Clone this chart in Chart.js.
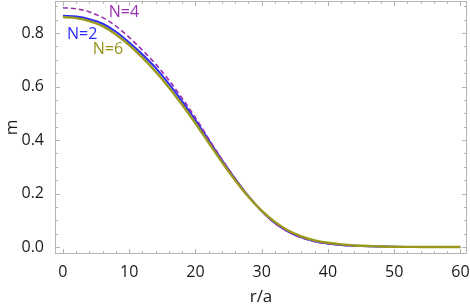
<!DOCTYPE html>
<html>
<head>
<meta charset="utf-8">
<script src="https://cdn.jsdelivr.net/npm/chart.js@4.4.1/dist/chart.umd.min.js"></script>
<style>
  html, body { margin: 0; padding: 0; background: #fff; }
  #wrap { width: 470px; height: 308px; }
</style>
</head>
<body>
<div id="wrap"><canvas id="grafico"></canvas></div>
<script>
const radios = [0, 2, 4, 6, 8, 10, 12, 14, 16, 18, 20, 22, 24, 26, 28, 30,
  32, 34, 36, 38, 40, 42, 44, 46, 48, 50, 52, 54, 56, 58, 60];
const mN2 = [0.865, 0.862, 0.852, 0.835, 0.805, 0.765, 0.72, 0.67, 0.61, 0.545, 0.475,
  0.40, 0.325, 0.255, 0.19, 0.135, 0.09, 0.058, 0.036, 0.022, 0.013, 0.008, 0.005,
  0.003, 0.002, 0.001, 0.0005, 0.0003, 0.0002, 0.0001, 0.0001];
const mN4 = [0.895, 0.891, 0.879, 0.858, 0.826, 0.784, 0.736, 0.684, 0.624, 0.556, 0.484,
  0.405, 0.328, 0.256, 0.19, 0.134, 0.089, 0.057, 0.035, 0.021, 0.012, 0.007, 0.004,
  0.003, 0.002, 0.001, 0.0005, 0.0003, 0.0002, 0.0001, 0.0001];
const mN6 = [0.860, 0.856, 0.845, 0.826, 0.795, 0.755, 0.708, 0.656, 0.597, 0.532, 0.463,
  0.390, 0.318, 0.250, 0.188, 0.136, 0.094, 0.062, 0.040, 0.025, 0.016, 0.010, 0.006,
  0.004, 0.002, 0.001, 0.0006, 0.0004, 0.0002, 0.0001, 0.0001];
const xTicks = [0, 10, 20, 30, 40, 50, 60];
const yTicks = [0.0, 0.2, 0.4, 0.6, 0.8];

const pares = (ys) => radios.map((r, i) => ({ x: r, y: ys[i] }));
const fonte = "'Open Sans', 'DejaVu Sans', sans-serif";

// moldura estilo Mathematica com marcas para dentro
const moldura = {
  id: 'moldura',
  afterDraw(chart) {
    const { ctx, chartArea: a, scales: { x, y } } = chart;
    ctx.save();
    ctx.strokeStyle = '#b4b4b4';
    ctx.lineWidth = 1;
    ctx.strokeRect(a.left + 0.5, a.top + 0.5, a.right - a.left - 1, a.bottom - a.top - 1);
    ctx.beginPath();
    for (let v = 0; v <= 60; v += 2) {
      const px = Math.round(x.getPixelForValue(v)) + 0.5;
      const len = v % 10 === 0 ? 5 : 3;
      ctx.moveTo(px, a.bottom); ctx.lineTo(px, a.bottom - len);
      ctx.moveTo(px, a.top); ctx.lineTo(px, a.top + len);
    }
    for (let v = 0; v <= 0.9001; v += 0.05) {
      const py = Math.round(y.getPixelForValue(v)) + 0.5;
      const major = Math.abs(v * 5 - Math.round(v * 5)) < 1e-6;
      const len = major ? 5 : 3;
      ctx.moveTo(a.left, py); ctx.lineTo(a.left + len, py);
      ctx.moveTo(a.right, py); ctx.lineTo(a.right - len, py);
    }
    ctx.stroke();

    // rótulos das curvas
    ctx.font = '16px ' + fonte;
    ctx.textAlign = 'center';
    ctx.textBaseline = 'middle';
    const rot = [['N=4', '#9a2fb0', 9.2, 0.878], ['N=2', '#2a2aff', 2.9, 0.796], ['N=6', '#93931a', 6.8, 0.740]];
    rot.forEach(([t, c, rx, my]) => {
      ctx.fillStyle = c;
      ctx.fillText(t, x.getPixelForValue(rx), y.getPixelForValue(my));
    });
    ctx.restore();
  }
};

const ctx = document.getElementById('grafico').getContext('2d');
new Chart(ctx, {
  type: 'line',
  data: {
    datasets: [
      { label: 'N=6', data: pares(mN6), borderColor: '#999a1c', borderWidth: 2.4, order: 0 },
      { label: 'N=4', data: pares(mN4), borderColor: '#9a2fb0', borderWidth: 1.6, borderDash: [5, 3], order: 1 },
      { label: 'N=2', data: pares(mN2), borderColor: '#2a2aff', borderWidth: 2, order: 2 }
    ]
  },
  options: {
    responsive: true,
    maintainAspectRatio: false,
    animation: false,
    elements: { point: { radius: 0 }, line: { tension: 0.4, cubicInterpolationMode: 'monotone', fill: false } },
    layout: { padding: { left: 0, right: 3, top: 1, bottom: 0 } },
    plugins: { legend: { display: false }, tooltip: { enabled: false } },
    scales: {
      x: {
        type: 'linear', min: -1.2, max: 61,
        grid: { display: false }, border: { display: false },
        afterBuildTicks: (s) => { s.ticks = xTicks.map(v => ({ value: v })); },
        afterFit: (s) => { s.height = 54; s.paddingLeft = 0; s.paddingRight = 0; },
        ticks: { color: '#1a1a1a', font: { family: fonte, size: 16 }, padding: 1, maxRotation: 0 },
        title: { display: true, text: 'r/a', color: '#1a1a1a', font: { family: fonte, size: 17 }, padding: { top: 0, bottom: 1 } }
      },
      y: {
        type: 'linear', min: -0.026, max: 0.92,
        grid: { display: false }, border: { display: false },
        afterBuildTicks: (s) => { s.ticks = yTicks.map(v => ({ value: v })); },
        afterFit: (s) => { s.width = 55; s.paddingTop = 0; s.paddingBottom = 0; },
        ticks: { color: '#1a1a1a', font: { family: fonte, size: 16 }, padding: 3, callback: (v) => v.toFixed(1) },
        title: { display: true, text: 'm', color: '#1a1a1a', font: { family: fonte, size: 17 }, padding: { top: 2, bottom: 0 } }
      }
    }
  },
  plugins: [moldura]
});
</script>
</body>
</html>
